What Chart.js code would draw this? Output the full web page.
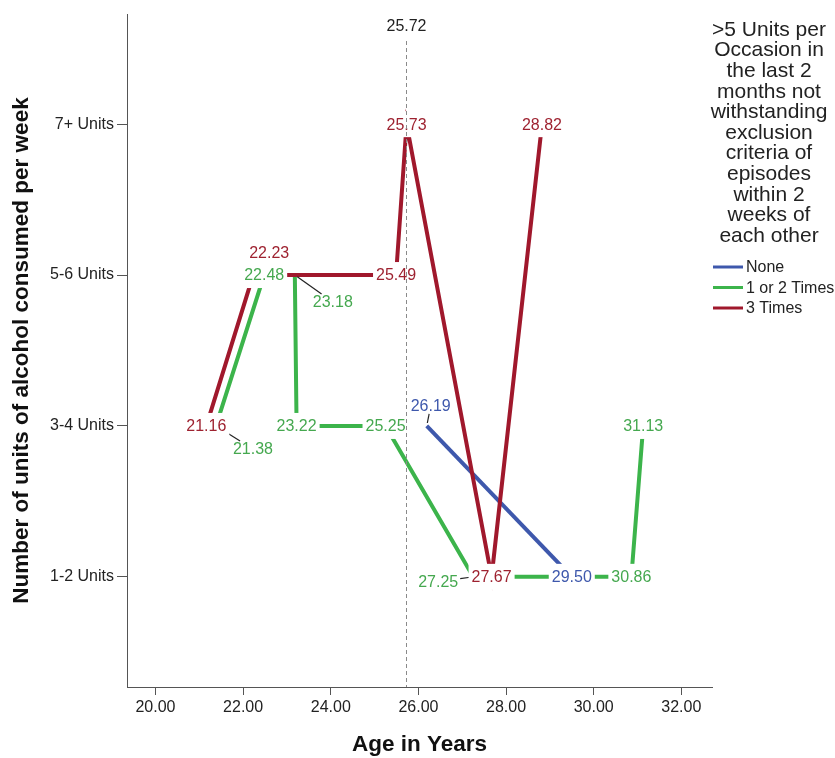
<!DOCTYPE html>
<html lang="en">

<head>
    <meta charset="UTF-8">
    <title>Units of alcohol per week by age</title>
    <script src="https://cdn.jsdelivr.net/npm/chart.js"></script>
    <style>
        html,
        body {
            margin: 0;
            padding: 0;
            background: #fff;
        }

        #wrap {
            width: 835px;
            height: 758px;
        }
    </style>
</head>

<body>
    <div id="wrap">
        <canvas id="myChart" width="835" height="758"></canvas>
    </div>

    <script>
        // categories / ticks
        const unitLabels = ['1-2 Units', '3-4 Units', '5-6 Units', '7+ Units'];
        const ageTicks = [20, 22, 24, 26, 28, 30, 32];
        const seriesNames = ['None', '1 or 2 Times', '3 Times'];
        const legendTitle = ['>5 Units per', 'Occasion in', 'the last 2', 'months not', 'withstanding',
            'exclusion', 'criteria of', 'episodes', 'within 2', 'weeks of', 'each other'];

        // series: age + units category
        const ageNone = [26.19, 29.50];
        const unitsNone = ['3-4 Units', '1-2 Units'];
        const ageOneTwo = [21.38, 22.48, 23.18, 23.22, 25.25, 27.25, 30.86, 31.13];
        const unitsOneTwo = ['3-4 Units', '5-6 Units', '5-6 Units', '3-4 Units', '3-4 Units', '1-2 Units', '1-2 Units', '3-4 Units'];
        const ageThree = [21.16, 22.23, 25.49, 25.73, 27.67, 28.82];
        const unitsThree = ['3-4 Units', '5-6 Units', '5-6 Units', '7+ Units', '1-2 Units', '7+ Units'];

        // mean age reference line
        const meanAge = 25.72;

        // label nudges in px (dx, dy, leader line?)
        const shiftNone = [[4, -20, true], [0, 0]];
        const shiftOneTwo = [[37, 23, true], [0, 0], [38, 27, true], [0, 0], [0, 0], [-35, 5, true], [0, 0], [0, 0]];
        const shiftThree = [[0, 0], [16, -22], [0, 0], [0, 0], [0, 0], [0, 0]];

        const colors = ['#3e58ac', '#3cb44b', '#a0182c'];
        const labelColors = ['#3e58ac', '#45a84f', '#9e2230'];
        const FONT = "'Liberation Sans', Arial, sans-serif";

        Chart.defaults.font.family = FONT;
        Chart.defaults.color = '#222';

        function toPoints(ages, units) {
            return ages.map(function (a, i) {
                return { x: a, y: unitLabels.indexOf(units[i]) + 1 };
            });
        }

        const shifts = [shiftNone, shiftOneTwo, shiftThree];

        // value labels with white boxes, drawn above the lines
        const valueLabels = {
            id: 'valueLabels',
            afterDatasetsDraw(chart) {
                const ctx = chart.ctx;
                ctx.save();
                ctx.font = '16px ' + FONT;
                ctx.textAlign = 'center';
                ctx.textBaseline = 'middle';
                chart.data.datasets.forEach(function (ds, di) {
                    const meta = chart.getDatasetMeta(di);
                    meta.data.forEach(function (pt, i) {
                        const s = shifts[di][i] || [0, 0];
                        const text = ds.data[i].x.toFixed(2);
                        const w = ctx.measureText(text).width;
                        const lx = pt.x + s[0], ly = pt.y + s[1];
                        if (s[0] == 0 && s[1] == 0) {
                            ctx.fillStyle = '#fff';
                            ctx.fillRect(lx - w / 2 - 3, ly - 13, w + 6, 26);
                        }
                        if (s[2]) {
                            // leader from point to label edge
                            const dx = lx - pt.x, dy = ly - pt.y;
                            const len = Math.sqrt(dx * dx + dy * dy);
                            const hw = w / 2 + 2, hh = 8;
                            const t = Math.min(Math.abs(dx) > 0 ? hw / Math.abs(dx) : 1, Math.abs(dy) > 0 ? hh / Math.abs(dy) : 1);
                            ctx.strokeStyle = '#222';
                            ctx.lineWidth = 1.2;
                            ctx.beginPath();
                            ctx.moveTo(pt.x + dx * 3 / len, pt.y + dy * 3 / len);
                            ctx.lineTo(lx - dx * t, ly - dy * t);
                            ctx.stroke();
                        }
                        ctx.fillStyle = labelColors[di];
                        ctx.fillText(text, lx, ly + 1);
                    });
                });
                ctx.restore();
            },
            afterDraw(chart) {
                const ctx = chart.ctx;
                const xs = chart.scales.x;
                const area = chart.chartArea;
                const mx = Math.round(xs.getPixelForValue(meanAge)) + 0.5;
                ctx.save();
                // dashed mean line
                ctx.strokeStyle = '#8a8a8a';
                ctx.lineWidth = 1;
                ctx.setLineDash([4, 3]);
                ctx.beginPath();
                ctx.moveTo(mx, 41);
                ctx.lineTo(mx, area.bottom);
                ctx.stroke();
                ctx.setLineDash([]);
                ctx.font = '16px ' + FONT;
                ctx.fillStyle = '#222';
                ctx.textAlign = 'center';
                ctx.textBaseline = 'middle';
                ctx.fillText(meanAge.toFixed(2), mx, 27);

                // legend
                ctx.font = '21px ' + FONT;
                legendTitle.forEach(function (line, i) {
                    ctx.fillText(line, 769, 30 + i * 20.6);
                });
                ctx.font = '16px ' + FONT;
                ctx.textAlign = 'left';
                chart.data.datasets.forEach(function (ds, i) {
                    const y = 267 + i * 20.5;
                    ctx.strokeStyle = colors[i];
                    ctx.lineWidth = 3;
                    ctx.beginPath();
                    ctx.moveTo(713, y);
                    ctx.lineTo(743, y);
                    ctx.stroke();
                    ctx.fillStyle = '#222';
                    ctx.fillText(ds.label, 746, y + 1);
                });
                ctx.restore();
            }
        };

        const ctx = document.getElementById('myChart');
        const myChart = new Chart(ctx, {
            type: 'scatter',
            data: {
                datasets: [{
                    label: seriesNames[0],
                    data: toPoints(ageNone, unitsNone),
                    borderColor: colors[0],
                    order: 2
                }, {
                    label: seriesNames[1],
                    data: toPoints(ageOneTwo, unitsOneTwo),
                    borderColor: colors[1],
                    order: 1
                }, {
                    label: seriesNames[2],
                    data: toPoints(ageThree, unitsThree),
                    borderColor: colors[2],
                    order: 0
                }]
            },
            options: {
                responsive: false,
                animation: false,
                devicePixelRatio: 1,
                showLine: true,
                elements: {
                    line: { borderWidth: 4, tension: 0 },
                    point: { radius: 0, hoverRadius: 0 }
                },
                layout: { padding: { top: 14, right: 123, left: 0, bottom: 0 } },
                plugins: {
                    legend: { display: false },
                    tooltip: { enabled: false }
                },
                scales: {
                    x: {
                        type: 'linear',
                        min: 19.35,
                        max: 32.7,
                        afterBuildTicks: function (s) {
                            s.ticks = ageTicks.map(v => ({ value: v }));
                        },
                        afterFit: function (s) { s.height = 71; },
                        ticks: {
                            callback: v => v.toFixed(2),
                            font: { size: 16 },
                            color: '#222',
                            padding: 3,
                            maxRotation: 0,
                            autoSkip: false
                        },
                        grid: { drawOnChartArea: false, drawTicks: true, tickLength: 8, tickColor: '#555' },
                        border: { color: '#555', width: 1 },
                        title: {
                            display: true,
                            text: 'Age in Years',
                            font: { size: 22.5, weight: 'bold' },
                            color: '#111',
                            padding: { top: 0, bottom: 0 }
                        }
                    },
                    y: {
                        type: 'linear',
                        min: 0.27,
                        max: 4.73,
                        afterBuildTicks: function (s) {
                            s.ticks = [1, 2, 3, 4].map(v => ({ value: v }));
                        },
                        afterFit: function (s) { s.width = 127; },
                        ticks: {
                            callback: v => unitLabels[v - 1],
                            font: { size: 16 },
                            color: '#222',
                            padding: 3
                        },
                        grid: { drawOnChartArea: false, drawTicks: true, tickLength: 10, tickColor: '#555' },
                        border: { color: '#555', width: 1 },
                        title: {
                            display: true,
                            text: 'Number of units of alcohol consumed per week',
                            font: { size: 22.5, weight: 'bold' },
                            color: '#111',
                            padding: { top: 8, bottom: 0 }
                        }
                    }
                }
            },
            plugins: [valueLabels]
        });
    </script>
</body>

</html>
